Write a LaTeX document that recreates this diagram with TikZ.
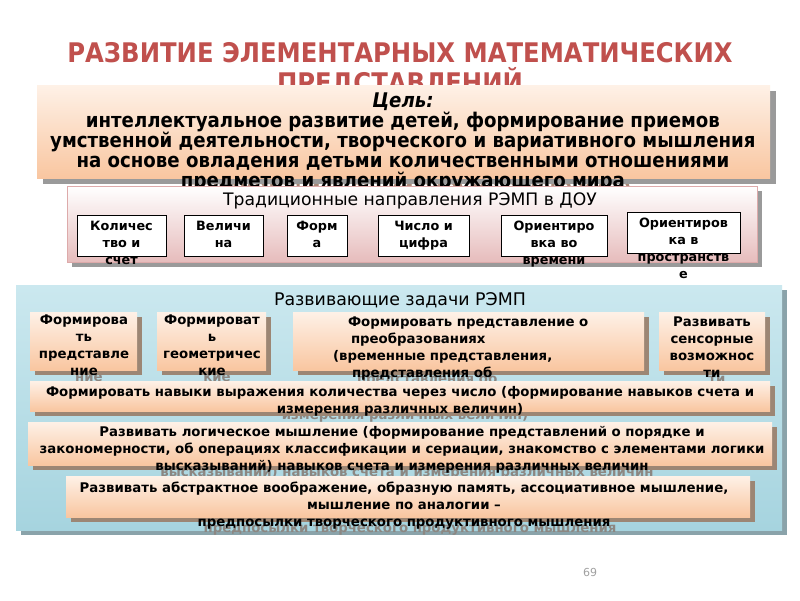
\documentclass[tikz,border=0pt]{standalone}
\usepackage{fontspec}
\setmainfont{DejaVu Sans}
\newfontfamily\cond{DejaVu Sans Condensed}
\usetikzlibrary{shadows}
\definecolor{titlered}{HTML}{C0504D}
\definecolor{peachtop}{HTML}{FEF1E7}
\definecolor{peachbot}{HTML}{F9C6A0}
\definecolor{pinkbot}{HTML}{E6BCBC}
\definecolor{pinkline}{HTML}{DDAAAA}
\definecolor{bluetop}{HTML}{CBE8EF}
\definecolor{bluebot}{HTML}{A6D4DF}
\definecolor{peachshadow}{HTML}{9C8674}
\definecolor{grayshadow}{HTML}{9A9A9A}
\definecolor{blueshadow}{HTML}{8AA3AA}
\definecolor{ghostcol}{HTML}{8C8782}
\definecolor{goalghost}{HTML}{A88878}
\definecolor{pagegray}{HTML}{A0A0A0}
\begin{document}
\begin{tikzpicture}[x=1pt,y=-1pt,
  panel/.style={draw=none, inner sep=0pt, outer sep=0pt, anchor=north west},
  peachbox/.style={panel, top color=peachtop, bottom color=peachbot,
     general shadow={fill=peachshadow, shadow xshift=5pt, shadow yshift=-5pt}},
  goalbox/.style={panel, top color=peachtop, bottom color=peachbot,
     general shadow={fill=grayshadow, shadow xshift=6pt, shadow yshift=-6pt}},
  pinkbox/.style={panel, draw=pinkline, line width=0.6pt, top color=white, bottom color=pinkbot,
     general shadow={fill=grayshadow, shadow xshift=5pt, shadow yshift=-5pt}},
  bluebox/.style={panel, top color=bluetop, bottom color=bluebot,
     general shadow={fill=blueshadow, shadow xshift=5pt, shadow yshift=-5pt}},
  whitebox/.style={panel, draw=black, line width=0.7pt, fill=white},
  bt/.style={inner sep=0pt, outer sep=0pt, align=center, anchor=north,
     font=\fontsize{13.3}{17}\selectfont\bfseries},
  st/.style={inner sep=0pt, outer sep=0pt, align=center, anchor=north,
     font=\fontsize{12.8}{17}\selectfont\bfseries},
  gt/.style={inner sep=0pt, outer sep=0pt, align=center, anchor=north,
     font=\cond\fontsize{20.2}{20}\selectfont\bfseries},
  tt/.style={inner sep=0pt, outer sep=0pt, text=titlered, anchor=base,
     font=\cond\fontsize{27}{30}\selectfont\bfseries},
  ghost/.style={text=ghostcol}
]
\useasboundingbox (0,0) rectangle (800,600);
\fill[white] (0,0) rectangle (800,600);

% Title
\node[tt] (title1) at (400,62) {РАЗВИТИЕ ЭЛЕМЕНТАРНЫХ МАТЕМАТИЧЕСКИХ};
\node[tt] (title2) at (400,92) {ПРЕДСТАВЛЕНИЙ};

% Goal box
\node[gt, text=goalghost] (goalghost) at (409,99) {\textit{Цель:}\\интеллектуальное развитие детей, формирование приемов\\умственной деятельности, творческого и вариативного мышления\\на основе овладения детьми количественными отношениями\\предметов и явлений окружающего мира};
\node[goalbox, minimum width=733pt, minimum height=93pt] (goal) at (37,85) {};
\node[gt] (goaltext) at (403,93) {\textit{Цель:}\\интеллектуальное развитие детей, формирование приемов\\умственной деятельности, творческого и вариативного мышления\\на основе овладения детьми количественными отношениями\\предметов и явлений окружающего мира};

% Traditional directions
\node[pinkbox, minimum width=690pt, minimum height=76pt] (trad) at (67,186) {};
\node[inner sep=0pt, font=\fontsize{17.2}{20}\selectfont, anchor=center] (tradtitle) at (410,201) {Традиционные направления РЭМП в ДОУ};
\node[whitebox, minimum width=89pt, minimum height=41pt] (d1) at (77,215) {};
\node[whitebox, minimum width=79pt, minimum height=41pt] (d2) at (184,215) {};
\node[whitebox, minimum width=60pt, minimum height=41pt] (d3) at (287,215) {};
\node[whitebox, minimum width=91pt, minimum height=41pt] (d4) at (378,215) {};
\node[whitebox, minimum width=106pt, minimum height=41pt] (d5) at (501,215) {};
\node[whitebox, minimum width=113pt, minimum height=41pt] (d6) at (627,212) {};
\node[st] (d1t) at (121.5,221) {Количес\\тво и\\счет};
\node[st] (d2t) at (223.5,221) {Величи\\на};
\node[st] (d3t) at (317,221) {Форм\\а};
\node[st] (d4t) at (423.5,221) {Число и\\цифра};
\node[st] (d5t) at (554,221) {Ориентиро\\вка во\\времени};
\node[st] (d6t) at (683.5,218) {Ориентиров\\ка в\\пространств\\е};

% Developing tasks
\node[bluebox, minimum width=766pt, minimum height=245pt] (tasks) at (16,285) {};
\node[inner sep=0pt, font=\fontsize{17.4}{20}\selectfont, anchor=center] (taskstitle) at (400,300) {Развивающие задачи РЭМП};

% Row 1
\node[bt, ghost] (aghost) at (89,321) {Формирова\\ть\\представле\\ние};
\node[bt, ghost] (bghost) at (217,321) {Формироват\\ь\\геометричес\\кие};
\node[bt, ghost, align=left, anchor=north west] (cghost) at (338,323) {\hspace{15pt}Формировать представление о\\\hspace{18pt}преобразованиях\\(временные представления,\\\hspace{19pt}представления об};
\node[bt, ghost] (dghost) at (717,323) {Развивать\\сенсорные\\возможнос\\ти};
\node[peachbox, minimum width=107pt, minimum height=58pt] (a) at (30,312) {};
\node[peachbox, minimum width=109pt, minimum height=58pt] (b) at (157,312) {};
\node[peachbox, minimum width=351pt, minimum height=58pt] (c) at (293,312) {};
\node[peachbox, minimum width=106pt, minimum height=58pt] (d) at (659,312) {};
\node[bt] (at) at (84,315) {Формирова\\ть\\представле\\ние};
\node[bt] (btx) at (212,315) {Формироват\\ь\\геометричес\\кие};
\node[bt, align=left, anchor=north west] (ct) at (333,317) {\hspace{15pt}Формировать представление о\\\hspace{18pt}преобразованиях\\(временные представления,\\\hspace{19pt}представления об};
\node[bt] (dt) at (712,317) {Развивать\\сенсорные\\возможнос\\ти};

% Row 2
\node[bt, ghost] (r2ghost) at (405,392) {Формировать навыки выражения количества через число (формирование навыков счета и\\измерения различных величин)};
\node[peachbox, minimum width=740pt, minimum height=30pt] (r2) at (30,381) {};
\node[bt] (r2t) at (400,386) {Формировать навыки выражения количества через число (формирование навыков счета и\\измерения различных величин)};

% Row 3
\node[bt, ghost] (r3ghost) at (407,432) {Развивать логическое мышление (формирование представлений о порядке и\\закономерности, об операциях классификации и сериации, знакомство с элементами логики\\высказываний) навыков счета и измерения различных величин};
\node[peachbox, minimum width=744pt, minimum height=43pt] (r3) at (28,422) {};
\node[bt] (r3t) at (402,426) {Развивать логическое мышление (формирование представлений о порядке и\\закономерности, об операциях классификации и сериации, знакомство с элементами логики\\высказываний) навыков счета и измерения различных величин};

% Row 4
\node[bt, ghost] (r4ghost) at (410,488) {Развивать абстрактное воображение, образную память, ассоциативное мышление,\\мышление по аналогии –\\предпосылки творческого продуктивного мышления};
\node[peachbox, minimum width=684pt, minimum height=41pt] (r4) at (66,476) {};
\node[bt] (r4t) at (404,482) {Развивать абстрактное воображение, образную память, ассоциативное мышление,\\мышление по аналогии –\\предпосылки творческого продуктивного мышления};

% Page number
\node[inner sep=0pt, text=pagegray, font=\fontsize{11}{13}\selectfont] (page) at (590,572) {69};
\end{tikzpicture}
\end{document}
